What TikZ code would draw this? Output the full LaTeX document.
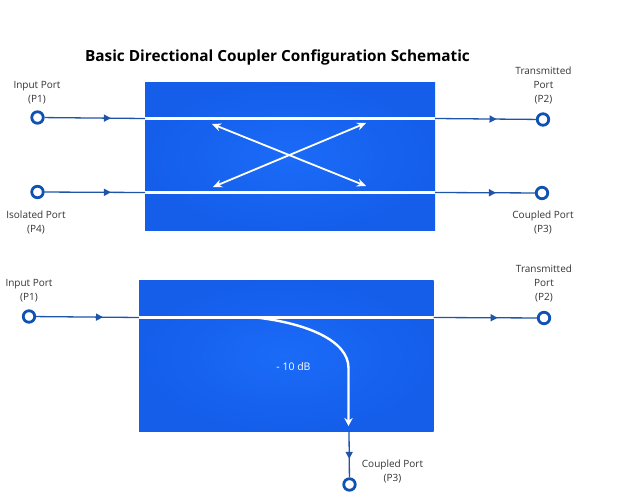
\documentclass[tikz,border=0pt]{standalone}
\usepackage{fontspec}
\setmainfont{Open Sans}
\usetikzlibrary{arrows.meta,decorations.markings,positioning}
\definecolor{wireblue}{HTML}{1F55A8}
\definecolor{portblue}{HTML}{0F52B4}
\definecolor{boxouter}{HTML}{145EEA}
\definecolor{boxinner}{HTML}{1B6BF8}
\definecolor{labelgrey}{HTML}{333333}
\tikzset{
  x=1pt,y=-1pt,
  port/.style={circle,draw=portblue,line width=2.8pt,fill=white,minimum size=11.5pt,inner sep=0pt},
  couplerbox/.style={rectangle,inner sep=0pt,outer sep=0pt,inner color=boxinner,outer color=boxouter},
  wire/.style={draw=wireblue,line width=1.3pt,postaction={decorate},
    decoration={markings,mark=at position #1 with {\arrow[wireblue,line width=0pt]{Triangle[length=7pt,width=7.5pt]}}}},
  guide/.style={draw=white,line width=2.7pt},
  crossarrow/.style={draw=white,line width=1.8pt},
  portlabel/.style={align=center,font=\fontsize{10}{14}\selectfont,text=labelgrey,inner sep=0pt}
}
\begin{document}
\begin{tikzpicture}
\useasboundingbox (0,0) rectangle (643,497);
\node[font=\bfseries\fontsize{15.35}{18}\selectfont,text=black,inner sep=0pt] (title) at (277.5,57.5) {Basic Directional Coupler Configuration Schematic};

% top coupler
\node[couplerbox,minimum width=290pt,minimum height=148.5pt] (topbox) at (290,156.75) {};
\coordinate (tl1) at (145,118.5); \coordinate (tr1) at (435,118.5);
\coordinate (tl2) at (145,192.5); \coordinate (tr2) at (435,192.5);
\draw[guide] (tl1) -- (tr1);
\draw[guide] (tl2) -- (tr2);
\coordinate (c1) at (366,186); \coordinate (c2) at (212,124);
\coordinate (c3) at (213,187); \coordinate (c4) at (366,123);
\draw[crossarrow,{Stealth[length=9pt,width=8pt]}-{Stealth[length=9pt,width=8pt]}] (c2) -- (c1);
\draw[crossarrow,{Stealth[length=9pt,width=8pt]}-{Stealth[length=9pt,width=8pt]}] (c3) -- (c4);

\node[port] (tp1) at (37.5,117.5) {};
\node[port] (tp4) at (37.5,192) {};
\node[port] (tp2) at (543,119.5) {};
\node[port] (tp3) at (542,193) {};
\draw[wire=0.66] (tp1) -- (tl1);
\draw[wire=0.66] (tp4) -- (tl2);
\draw[wire=0.61] (tr1) -- (tp2);
\draw[wire=0.61] (tr2) -- (tp3);

\node[portlabel] (tl1a) at (37,93) {Input Port\\(P1)};
\node[portlabel] (tl4a) at (36,222.5) {Isolated Port\\(P4)};
\node[portlabel] (tl2a) at (543.5,85.5) {Transmitted\\Port\\(P2)};
\node[portlabel] (tl3a) at (543,222.5) {Coupled Port\\(P3)};

% bottom coupler
\node[couplerbox,minimum width=294.5pt,minimum height=150.5pt] (botbox) at (286.25,356) {};
\coordinate (bl1) at (139,317.5); \coordinate (br1) at (433.5,317.5);
\coordinate (bend) at (256,317.5); \coordinate (bturn) at (348.5,368);
\coordinate (btip) at (348.5,426); \coordinate (bedge) at (349,431);
\draw[guide] (bl1) -- (br1);
\draw[draw=white,line width=2.4pt,-{Stealth[length=8pt,width=8.5pt]}] (bend) .. controls (305,323) and (348.5,340) .. (bturn) -- (btip);

\node[port] (bp1) at (29,316.5) {};
\node[port] (bp2) at (544,318) {};
\node[port] (bp3) at (349.5,484.5) {};
\draw[wire=0.65] (bp1) -- (bl1);
\draw[wire=0.62] (br1) -- (bp2);
\draw[wire=0.6] (bedge) -- (bp3);

\node[portlabel] (bl1a) at (29,291) {Input Port\\(P1)};
\node[portlabel] (bl2a) at (544,283.5) {Transmitted\\Port\\(P2)};
\node[portlabel] (bl3a) at (392.5,471) {Coupled Port\\(P3)};
\node[portlabel,text=white,font=\fontsize{10.5}{12}\selectfont] (db) at (293.5,366.5) {- 10 dB};
\end{tikzpicture}
\end{document}
